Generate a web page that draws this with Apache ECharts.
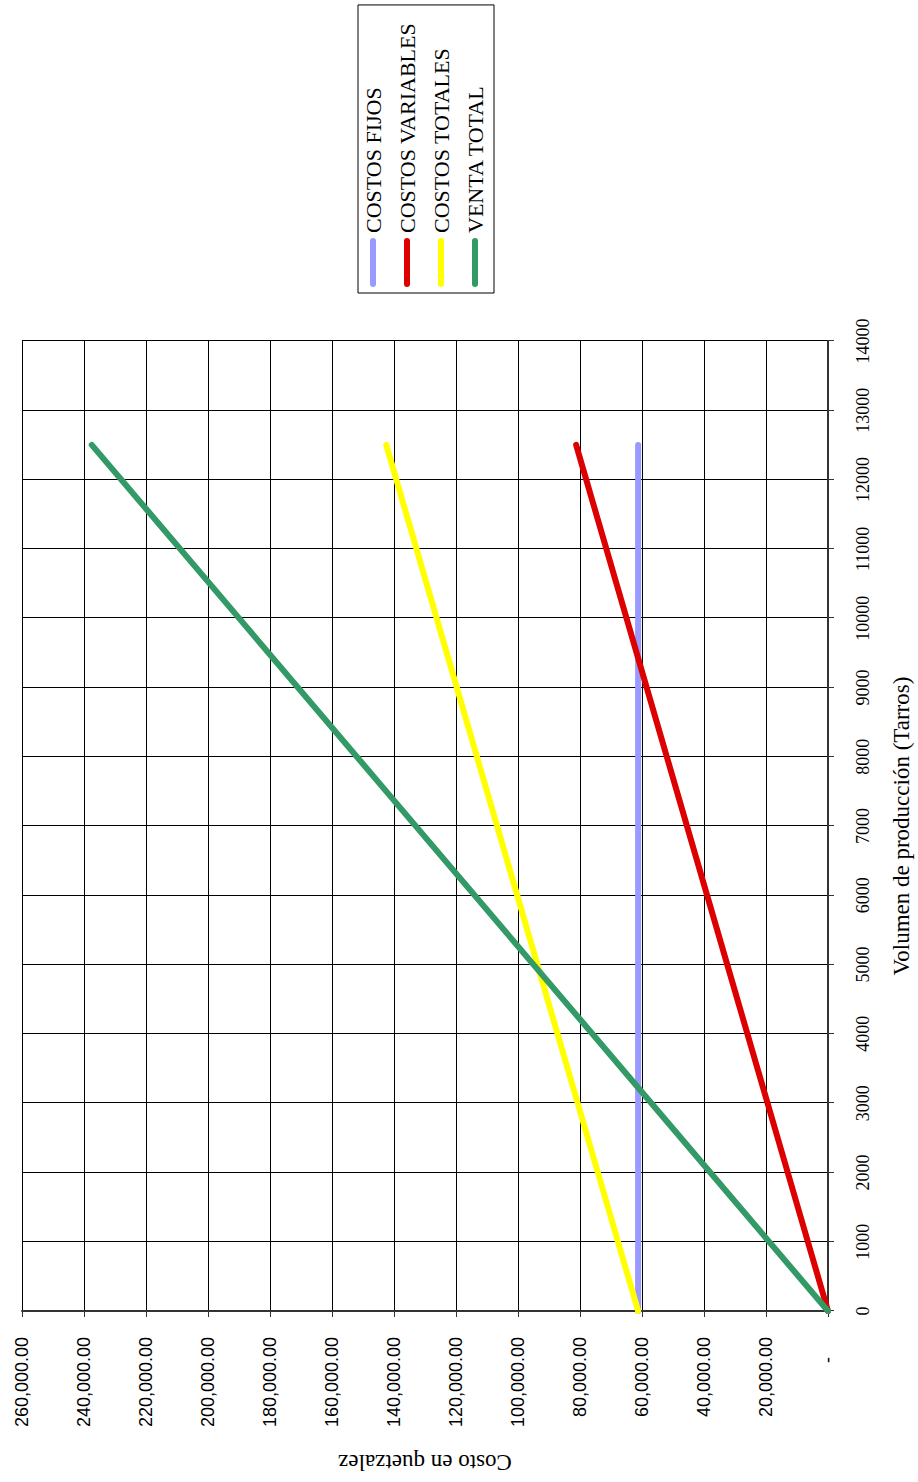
<!DOCTYPE html>
<html>
<head>
<meta charset="utf-8">
<script src="https://cdn.jsdelivr.net/npm/echarts@6/dist/echarts.min.js"></script>
<style>
  html, body { margin: 0; padding: 0; background: #fff; overflow: hidden; width: 918px; height: 1482px; }
  #chart {
    position: absolute; left: 0; top: 0;
    width: 1482px; height: 918px;
    transform-origin: 0 0;
    transform: translateY(1482px) rotate(-90deg);
    background: #fff;
  }
</style>
</head>
<body>
<div id="chart"></div>
<script>
// Volume (Tarros) at which values are given
const volumen = [0, 2500, 5000, 7500, 10000, 12500];
const costosFijos = [61250, 61250, 61250, 61250, 61250, 61250];
const costosVariables = [0, 16250, 32500, 48750, 65000, 81250];
const costosTotales = [61250, 77500, 93750, 110000, 126250, 142500];
const ventaTotal = [0, 47500, 95000, 142500, 190000, 237500];

const seriesNames = ['COSTOS FIJOS', 'COSTOS VARIABLES', 'COSTOS TOTALES', 'VENTA TOTAL'];
const seriesColors = ['#9999FF', '#DD0000', '#FFFF00', '#339966'];
const seriesValues = [costosFijos, costosVariables, costosTotales, ventaTotal];

const xTitle = 'Volumen de producción (Tarros)';
const yTitle = 'Costo en quetzalez';

function fmtCost(v) {
  if (v === 0) return '-    ';
  const s = Math.round(v).toString().replace(/\B(?=(\d{3})+(?!\d))/g, ',');
  return s + '.00';
}
function fmtVol(v) {
  return String(Math.round(v));
}

const chart = echarts.init(document.getElementById('chart'), null, { renderer: 'svg', width: 1482, height: 918 });

const option = {
  animation: false,
  backgroundColor: '#fff',
  grid: { left: 171, right: 341, top: 22, bottom: 87, containLabel: false },
  legend: {
    data: seriesNames,
    orient: 'vertical',
    left: 1189,
    top: 358,
    padding: [4, 18, 8, 6],
    itemGap: 12,
    itemWidth: 49,
    itemHeight: 6,
    icon: 'path://M3,0 L46,0 A3,3 0 0 1 46,6 L3,6 A3,3 0 0 1 3,0 Z',
    borderColor: '#000',
    borderWidth: 1,
    selectedMode: false,
    textStyle: { fontFamily: 'Liberation Serif', fontSize: 22, color: '#000' }
  },
  xAxis: {
    type: 'value',
    min: 0, max: 14000, interval: 1000,
    name: xTitle,
    nameLocation: 'middle',
    nameGap: 62,
    nameTextStyle: { fontFamily: 'Liberation Serif', fontSize: 23, color: '#000' },
    axisLine: { show: true, lineStyle: { color: '#333', width: 2 } },
    axisTick: { show: true, length: 6, lineStyle: { color: '#333' } },
    axisLabel: { fontFamily: 'Liberation Serif', fontSize: 18, color: '#000', margin: 26, formatter: fmtVol },
    splitLine: { show: true, lineStyle: { color: '#000', width: 1 } }
  },
  yAxis: {
    type: 'value',
    min: 0, max: 260000, interval: 20000,
    name: yTitle,
    nameLocation: 'middle',
    nameGap: 140,
    nameRotate: 90,
    nameTextStyle: { fontFamily: 'Liberation Serif', fontSize: 23, color: '#000' },
    axisLine: { show: true, lineStyle: { color: '#333', width: 2 } },
    axisTick: { show: true, length: 6, lineStyle: { color: '#333' } },
    axisLabel: { fontFamily: 'Liberation Sans', fontSize: 18, color: '#000', margin: 26, formatter: fmtCost },
    splitLine: { show: true, lineStyle: { color: '#000', width: 1 } }
  },
  series: seriesNames.map((name, i) => ({
    name: name,
    type: 'line',
    showSymbol: false,
    symbol: 'none',
    color: seriesColors[i],
    lineStyle: { color: seriesColors[i], width: 6, cap: 'round', join: 'round' },
    emphasis: { disabled: true },
    data: volumen.map((v, j) => [v, seriesValues[i][j]])
  }))
};

chart.setOption(option);
</script>
</body>
</html>
